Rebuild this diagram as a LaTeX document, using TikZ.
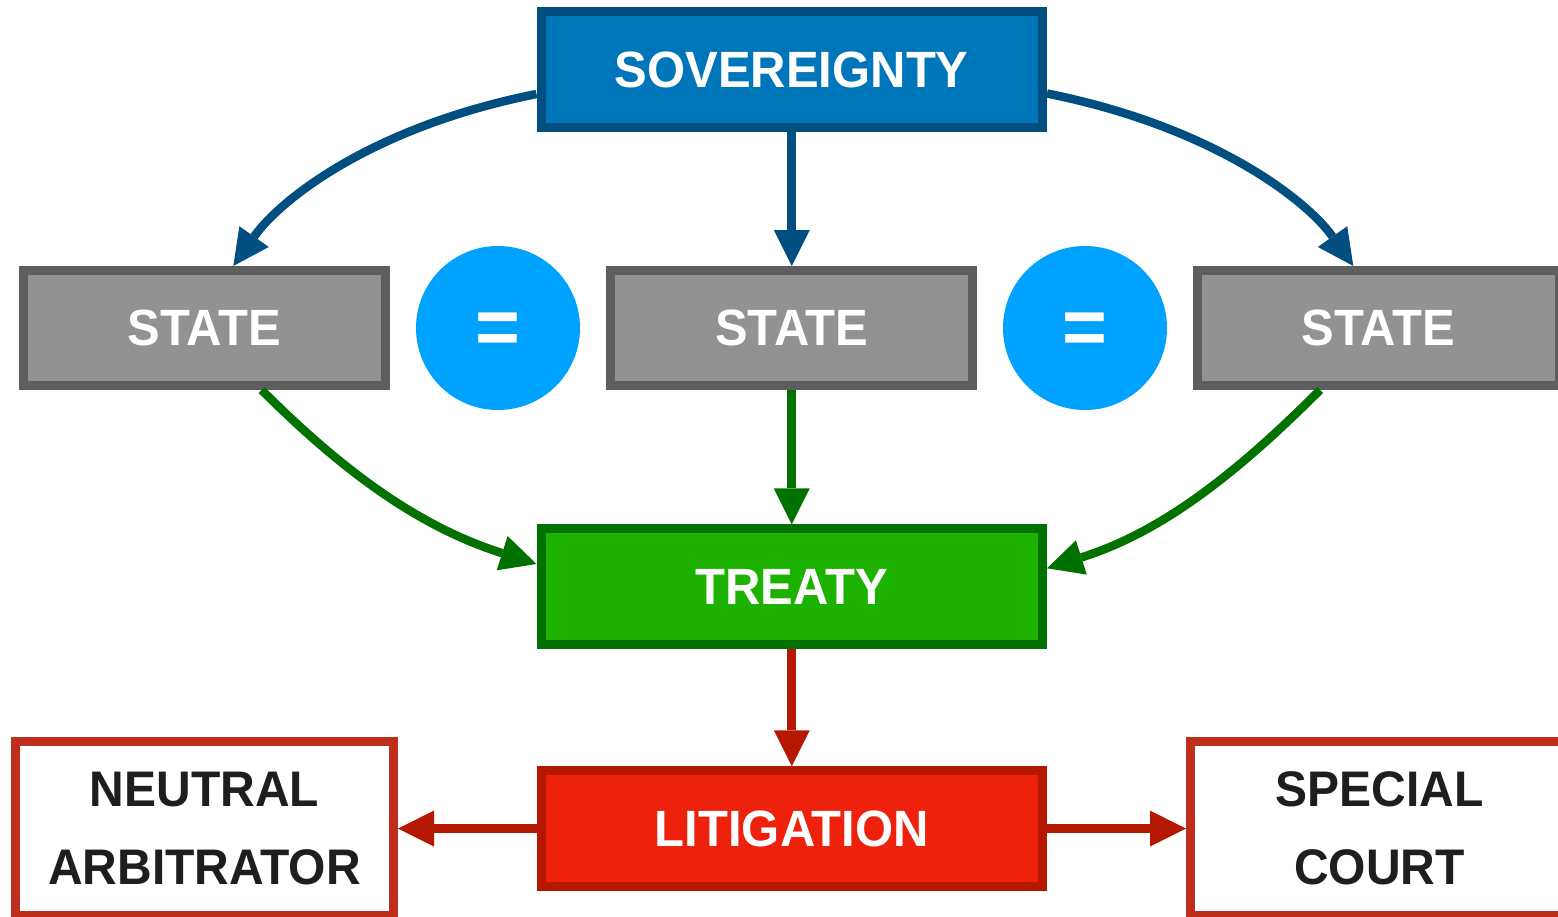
\documentclass[tikz,border=0pt]{standalone}
\usepackage{fontspec}
\setmainfont{Liberation Sans}[FakeStretch=0.96]
\usetikzlibrary{arrows.meta,calc}

\definecolor{sovfill}{HTML}{0076BA}
\definecolor{sovline}{HTML}{004F80}
\definecolor{statefill}{HTML}{929292}
\definecolor{stateline}{HTML}{5E5E5E}
\definecolor{eqblue}{HTML}{00A2FF}
\definecolor{treatyfill}{HTML}{1DB100}
\definecolor{treatyline}{HTML}{017100}
\definecolor{litfill}{HTML}{EE220C}
\definecolor{litline}{HTML}{B51700}
\definecolor{forumline}{HTML}{BF2E1C}
\definecolor{forumtext}{HTML}{1E1E1E}

\tikzset{
  boxbase/.style={rectangle, line width=9pt, inner sep=0pt,
    font=\fontsize{51pt}{60pt}\selectfont\bfseries, text=white},
  mainbox/.style={boxbase, minimum width=501.5pt, minimum height=115.5pt},
  statebox/.style={boxbase, minimum width=362pt, minimum height=115pt,
    fill=statefill, draw=stateline},
  forumbox/.style={boxbase, minimum width=378pt, minimum height=174pt,
    fill=white, draw=forumline, text=forumtext, align=center,
    font=\fontsize{50pt}{78pt}\selectfont\bfseries},
  eqdot/.style={circle, fill=eqblue, minimum size=164pt, inner sep=0pt},
  eqsign/.style={inner sep=0pt, text=white, yshift=-6pt,
    font=\fontsize{80pt}{90pt}\selectfont\bfseries},
  conn/.style={line width=9pt,
    -{Triangle[length=36pt 0 0, width=36pt 0 0, line width=0pt 0 0]}},
  curved/.style={conn, line width=8.5pt},
}

\begin{document}
\begin{tikzpicture}[x=1pt, y=-1pt]
  \useasboundingbox (0,0) rectangle (1558,916);

  % top: sovereignty
  \node[mainbox, fill=sovfill, draw=sovline] (sov) at (791.75,69.5) {SOVEREIGNTY};

  % the three equal states
  \node[statebox] (stL) at (204.5,328) {STATE};
  \node[statebox] (stM) at (791.75,328) {STATE};
  \node[statebox] (stR) at (1378.5,328) {STATE};

  % equality markers between the states
  \node[eqdot] (eqL) at (498,328) {};
  \node[eqsign] (eqLsign) at (eqL.center) {=};
  \node[eqdot] (eqR) at (1085,328) {};
  \node[eqsign] (eqRsign) at (eqR.center) {=};

  % treaty and litigation
  \node[mainbox, fill=treatyfill, draw=treatyline] (treaty) at (791.75,586.7) {TREATY};
  \node[mainbox, fill=litfill, draw=litline] (lit) at (791.75,828.5) {LITIGATION};

  % dispute forums
  \node[forumbox] (arb) at (204.5,828.5) {NEUTRAL\\ARBITRATOR};
  \node[forumbox] (court) at (1379.5,828.5) {SPECIAL\\COURT};

  % sovereignty to states
  \draw[curved, sovline] ($(sov.west)+(0,24.5)$)
    .. controls +(-166.6,33.3) and +(46.2,-65.4) .. ($(stL.north)+(28.8,0)$);
  \draw[conn, sovline] (sov.south) -- (stM.north);
  \draw[curved, sovline] ($(sov.east)+(0,24)$)
    .. controls +(166.6,33.3) and +(-46.2,-65.4) .. ($(stR.north)+(-25.2,0)$);

  % states to treaty
  \draw[curved, treatyline] ($(stL.south)+(57.2,0)$)
    .. controls +(84.9,84.9) and +(-114.4,-36.2) .. ($(treaty.west)+(0,-22.7)$);
  \draw[conn, treatyline] (stM.south) -- (treaty.north);
  \draw[curved, treatyline] ($(stR.south)+(-58.5,0)$)
    .. controls +(-84.9,84.9) and +(114.4,-36.2) .. ($(treaty.east)+(0,-18.4)$);

  % treaty to litigation, litigation to forums
  \draw[conn, litline] (treaty.south) -- (lit.north);
  \draw[conn, litline] (lit.west) -- (arb.east);
  \draw[conn, litline] (lit.east) -- (court.west);
\end{tikzpicture}
\end{document}
